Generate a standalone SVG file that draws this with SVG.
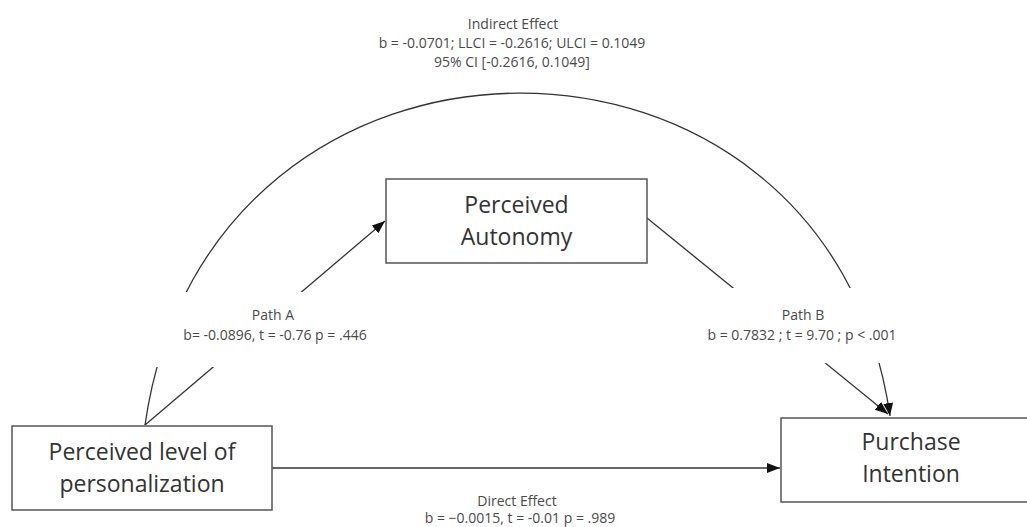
<svg xmlns="http://www.w3.org/2000/svg" width="1027" height="527" viewBox="0 0 1027 527">
<style>
.box{fill:#fff;stroke:#555;stroke-width:1.5}
.big{font-family:"Open Sans","Noto Sans",sans-serif;font-size:23px;fill:#333;text-anchor:middle}
.lbl{font-family:"Open Sans","Noto Sans",sans-serif;font-size:14px;fill:#4a4a4a;text-anchor:middle}
.ln{fill:none;stroke:#333;stroke-width:1.3}
</style>
<defs>
<marker id="ah" markerWidth="14" markerHeight="12" refX="13" refY="5" orient="auto" markerUnits="userSpaceOnUse">
<path d="M0,0 L13,5 L0,10 Z" fill="#111"/>
</marker>
<mask id="gap" maskUnits="userSpaceOnUse" x="0" y="0" width="1027" height="527">
<rect x="0" y="0" width="1027" height="527" fill="#fff"/>
<rect x="120" y="292" width="300" height="75" fill="#000"/>
<rect x="680" y="288" width="240" height="75" fill="#000"/>
</mask>
</defs>
<g id="connectors">
<g mask="url(#gap)">
<path class="ln" d="M145,425 C208,-16 828,-16 890,416" marker-end="url(#ah)"/>
<line class="ln" x1="145" y1="425" x2="385" y2="221" marker-end="url(#ah)"/>
<line class="ln" x1="647" y1="218" x2="888" y2="414" marker-end="url(#ah)"/>
</g>
<line class="ln" x1="272" y1="468" x2="780" y2="468" marker-end="url(#ah)"/>
</g>
<g id="label-indirect">
<text class="lbl" x="513" y="29">Indirect Effect</text>
<text class="lbl" x="512" y="48">b = -0.0701; LLCI = -0.2616; ULCI = 0.1049</text>
<text class="lbl" x="512" y="67">95% CI [-0.2616, 0.1049]</text>
</g>
<g id="label-pathA">
<text class="lbl" x="273" y="320">Path A</text>
<text class="lbl" x="275" y="340">b= -0.0896, t = -0.76 p = .446</text>
</g>
<g id="label-pathB">
<text class="lbl" x="803" y="320">Path B</text>
<text class="lbl" x="802" y="340">b = 0.7832 ; t = 9.70 ; p &lt; .001</text>
</g>
<g id="label-direct">
<text class="lbl" x="517" y="506">Direct Effect</text>
<text class="lbl" x="520" y="523">b = −0.0015, t = -0.01 p = .989</text>
</g>
<g id="node-autonomy">
<rect class="box" x="386" y="179" width="261" height="84"/>
<text class="big" x="516.5" y="213">Perceived</text>
<text class="big" x="516.5" y="245">Autonomy</text>
</g>
<g id="node-personalization">
<rect class="box" x="12" y="426" width="260" height="84"/>
<text class="big" x="142" y="460">Perceived level of</text>
<text class="big" x="142" y="492">personalization</text>
</g>
<g id="node-purchase">
<rect class="box" x="781" y="418" width="260" height="84"/>
<text class="big" x="911" y="450">Purchase</text>
<text class="big" x="911" y="482">Intention</text>
</g>
</svg>
